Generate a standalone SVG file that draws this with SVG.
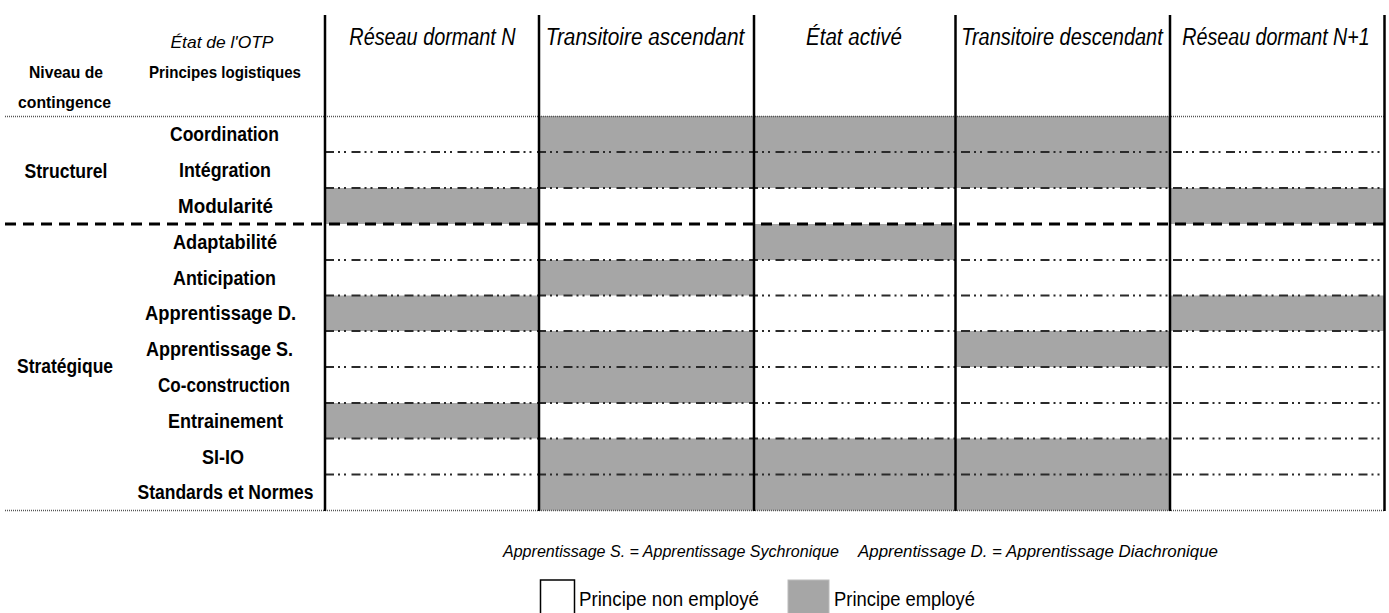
<svg xmlns="http://www.w3.org/2000/svg" width="1389" height="613" viewBox="0 0 1389 613">
<style>
text{font-family:"Liberation Sans",Arial,sans-serif;fill:#000}
.hd{font-size:24px;font-style:italic;text-anchor:middle}
.lb{font-size:20px;font-weight:bold;text-anchor:middle}
.hl{font-size:17px;font-weight:bold;text-anchor:middle}
.it{font-style:italic;font-weight:normal}
.fn{font-size:17px;font-style:italic}
.lg{font-size:20px}
.on{fill:#a6a6a6}
.v{stroke:#000;stroke-width:2.5}
.dd{stroke:#2a2a2a;stroke-width:2.2;stroke-dasharray:9 4 2 4 2 5.5;fill:none}
.dt{stroke:#555;stroke-width:1.5;stroke-dasharray:1 1;fill:none}
.dg{stroke:#000;stroke-width:3;stroke-dasharray:11 7;fill:none}
</style>
<rect width="1389" height="613" fill="#fff"/>
<g id="cells">
<rect class="on" x="539" y="116" width="631" height="72"/>
<rect class="on" x="325" y="188" width="214" height="36"/>
<rect class="on" x="1170" y="188" width="215" height="36"/>
<rect class="on" x="754" y="224" width="201" height="36"/>
<rect class="on" x="539" y="260" width="215" height="35.5"/>
<rect class="on" x="325" y="295.5" width="214" height="35.5"/>
<rect class="on" x="1170" y="295.5" width="215" height="35.5"/>
<rect class="on" x="539" y="331" width="215" height="72"/>
<rect class="on" x="955" y="331" width="215" height="36"/>
<rect class="on" x="325" y="403" width="214" height="35.5"/>
<rect class="on" x="539" y="438.5" width="631" height="72"/>
</g>
<g id="connectors">
<line class="dt" x1="5" y1="116.5" x2="1385" y2="116.5"/>
<line class="dd" x1="325" y1="152" x2="1385" y2="152"/>
<line class="dd" x1="325" y1="188" x2="1385" y2="188"/>
<line class="dg" x1="5" y1="224" x2="1385" y2="224"/>
<line class="dd" x1="325" y1="260" x2="1385" y2="260"/>
<line class="dd" x1="325" y1="295.5" x2="1385" y2="295.5"/>
<line class="dd" x1="325" y1="331" x2="1385" y2="331"/>
<line class="dd" x1="325" y1="367" x2="1385" y2="367"/>
<line class="dd" x1="325" y1="403" x2="1385" y2="403"/>
<line class="dd" x1="325" y1="438.5" x2="1385" y2="438.5"/>
<line class="dd" x1="325" y1="474.5" x2="1385" y2="474.5"/>
<line class="dt" x1="5" y1="510.5" x2="1385" y2="510.5"/>
<line class="v" x1="325" y1="15" x2="325" y2="511"/>
<line class="v" x1="539" y1="15" x2="539" y2="511"/>
<line class="v" x1="754" y1="15" x2="754" y2="511"/>
<line class="v" x1="955.5" y1="15" x2="955.5" y2="511"/>
<line class="v" x1="1170" y1="15" x2="1170" y2="511"/>
<line class="v" x1="1384.5" y1="15" x2="1384.5" y2="511"/>
</g>
<g id="header">
<text class="hl it" x="222" y="48" textLength="103" lengthAdjust="spacingAndGlyphs">État de l'OTP</text>
<text class="hl" x="225" y="78" textLength="152" lengthAdjust="spacingAndGlyphs">Principes logistiques</text>
<text class="hl" x="66" y="78" textLength="74" lengthAdjust="spacingAndGlyphs">Niveau de</text>
<text class="hl" x="64.5" y="108" textLength="93" lengthAdjust="spacingAndGlyphs">contingence</text>
<text class="hd" transform="translate(432.5,45) scale(0.826,1)">Réseau dormant N</text>
<text class="hd" transform="translate(645,45) scale(0.867,1)">Transitoire ascendant</text>
<text class="hd" transform="translate(854,45) scale(0.857,1)">État activé</text>
<text class="hd" transform="translate(1062,45) scale(0.832,1)">Transitoire descendant</text>
<text class="hd" transform="translate(1276,45) scale(0.819,1)">Réseau dormant N+1</text>
</g>
<g id="group-structurel">
<text class="lb" x="66" y="177.5" textLength="83" lengthAdjust="spacingAndGlyphs">Structurel</text>
</g>
<g id="group-strategique">
<text class="lb" x="65" y="372.5" textLength="96" lengthAdjust="spacingAndGlyphs">Stratégique</text>
</g>
<g id="principles">
<text class="lb" x="224.5" y="141" textLength="109" lengthAdjust="spacingAndGlyphs">Coordination</text>
<text class="lb" x="225" y="177" textLength="92" lengthAdjust="spacingAndGlyphs">Intégration</text>
<text class="lb" x="225.5" y="213" textLength="95" lengthAdjust="spacingAndGlyphs">Modularité</text>
<text class="lb" x="225" y="249" textLength="104" lengthAdjust="spacingAndGlyphs">Adaptabilité</text>
<text class="lb" x="224.5" y="284.5" textLength="103" lengthAdjust="spacingAndGlyphs">Anticipation</text>
<text class="lb" x="220.5" y="320" textLength="151" lengthAdjust="spacingAndGlyphs">Apprentissage D.</text>
<text class="lb" x="219.5" y="356" textLength="147" lengthAdjust="spacingAndGlyphs">Apprentissage S.</text>
<text class="lb" x="224" y="392" textLength="132" lengthAdjust="spacingAndGlyphs">Co-construction</text>
<text class="lb" x="225.5" y="427.5" textLength="115" lengthAdjust="spacingAndGlyphs">Entrainement</text>
<text class="lb" x="223" y="463.5" textLength="42" lengthAdjust="spacingAndGlyphs">SI-IO</text>
<text class="lb" x="225.5" y="499" textLength="176" lengthAdjust="spacingAndGlyphs">Standards et Normes</text>
</g>
<g id="footnote">
<text class="fn" x="503" y="557" textLength="336" lengthAdjust="spacingAndGlyphs">Apprentissage S. = Apprentissage Sychronique</text>
<text class="fn" x="858" y="557" textLength="360" lengthAdjust="spacingAndGlyphs">Apprentissage D. = Apprentissage Diachronique</text>
</g>
<g id="legend-non">
<rect x="540.5" y="580" width="34" height="40" fill="#fff" stroke="#000" stroke-width="1.5"/>
<text class="lg" x="579" y="606" textLength="180" lengthAdjust="spacingAndGlyphs">Principe non employé</text>
</g>
<g id="legend-emp">
<rect x="788" y="580" width="41" height="40" fill="#a6a6a6" stroke="#bbb" stroke-width="1"/>
<text class="lg" x="834" y="606" textLength="141" lengthAdjust="spacingAndGlyphs">Principe employé</text>
</g>
</svg>
